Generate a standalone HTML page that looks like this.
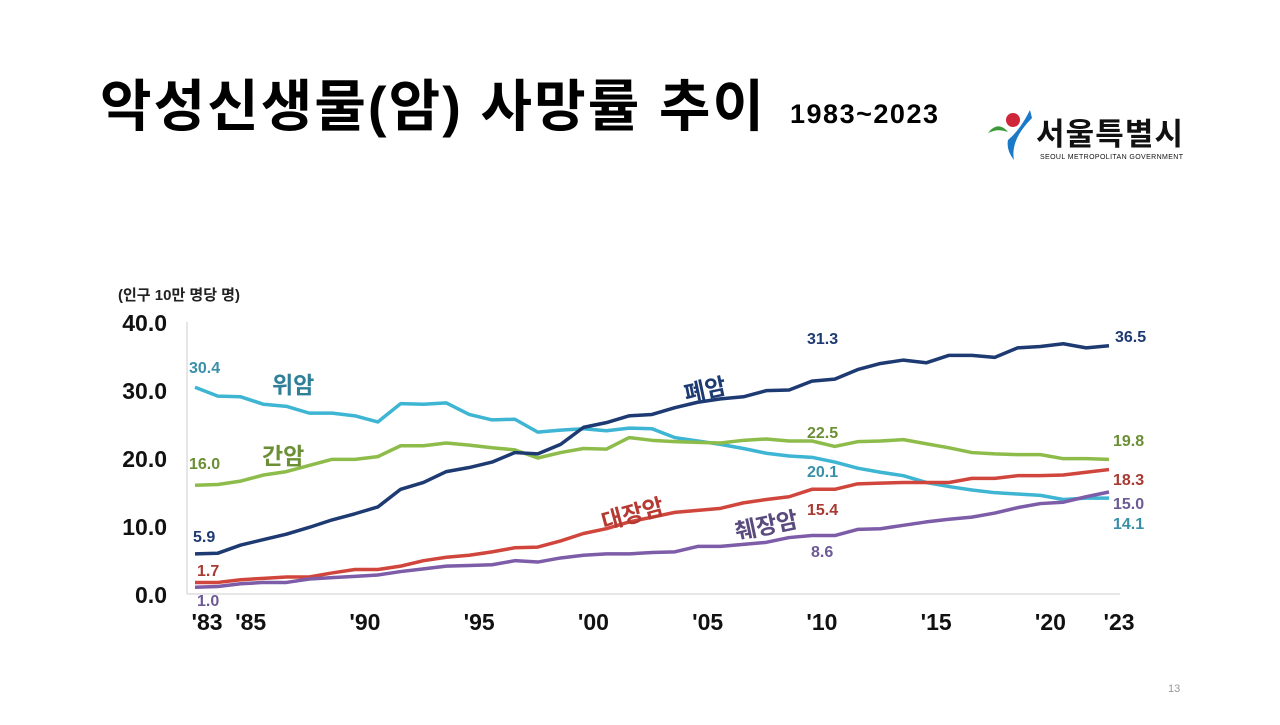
<!DOCTYPE html>
<html><head><meta charset="utf-8">
<style>
body{margin:0;width:1280px;height:720px;background:#fff;overflow:hidden;font-family:"Liberation Sans","Noto Sans CJK KR",sans-serif;}
svg text{font-family:"Liberation Sans","Noto Sans CJK KR",sans-serif;}
</style></head><body>
<svg width="1280" height="720">
<text x="100" y="126" font-size="56" font-weight="bold" fill="#000" textLength="664">악성신생물(암) 사망률 추이</text>
<text x="790" y="123" font-size="27" font-weight="bold" fill="#000" textLength="148">1983~2023</text>
<g>
<circle cx="1013" cy="120" r="7" fill="#d0263a"/>
<path d="M988 133 Q998 120 1008 132 Q998 128 988 133Z" fill="#3a9a3a"/>
<path d="M1030 110 Q1020 130 1008 140 Q1006 150 1014 160 Q1010 140 1032 118Z" fill="#1b7ac8"/>
<text x="1036" y="145" font-size="31" font-weight="bold" fill="#111" textLength="147">서울특별시</text>
<text x="1040" y="159" font-size="7" fill="#111" textLength="143">SEOUL METROPOLITAN GOVERNMENT</text>
</g>
<text x="1168" y="692" font-size="11" fill="#999">13</text>
<g id="chart"></g>
</svg>
<script>
const years=[];for(let y=1983;y<=2023;y++)years.push(y);
const lung=[5.9,6.0,7.2,8.0,8.8,9.8,10.9,11.8,12.8,15.4,16.4,18.0,18.6,19.4,20.8,20.6,22.0,24.5,25.2,26.2,26.4,27.4,28.2,28.7,29.0,29.9,30.0,31.3,31.6,33.0,33.9,34.4,34.0,35.1,35.1,34.8,36.2,36.4,36.8,36.2,36.5];
const stomach=[30.4,29.1,29.0,27.9,27.6,26.6,26.6,26.2,25.3,28.0,27.9,28.1,26.4,25.6,25.7,23.8,24.1,24.3,24.0,24.4,24.3,23.0,22.5,22.0,21.4,20.7,20.3,20.1,19.4,18.5,17.9,17.4,16.4,15.8,15.3,14.9,14.7,14.5,13.9,14.1,14.1];
const liver=[16.0,16.1,16.6,17.5,18.0,18.9,19.8,19.8,20.2,21.8,21.8,22.2,21.9,21.5,21.2,20.0,20.8,21.4,21.3,23.0,22.6,22.4,22.3,22.2,22.6,22.8,22.5,22.5,21.7,22.4,22.5,22.7,22.1,21.5,20.8,20.6,20.5,20.5,19.9,19.9,19.8];
const colon=[1.7,1.7,2.1,2.3,2.5,2.5,3.1,3.6,3.6,4.1,4.9,5.4,5.7,6.2,6.8,6.9,7.8,8.9,9.6,10.6,11.3,12.0,12.3,12.6,13.4,13.9,14.3,15.4,15.4,16.2,16.3,16.4,16.4,16.4,17.0,17.0,17.4,17.4,17.5,17.9,18.3];
const pancreas=[1.0,1.1,1.5,1.7,1.7,2.2,2.4,2.6,2.8,3.3,3.7,4.1,4.2,4.3,4.9,4.7,5.3,5.7,5.9,5.9,6.1,6.2,7.0,7.0,7.3,7.6,8.3,8.6,8.6,9.5,9.6,10.1,10.6,11.0,11.3,11.9,12.7,13.3,13.5,14.3,15.0];
const yTicks=[0,10,20,30,40];
const xTickYears=[1983,1985,1990,1995,2000,2005,2010,2015,2020,2023];
const xTickLabels=["'83","'85","'90","'95","'00","'05","'10","'15","'20","'23"];
const NS="http://www.w3.org/2000/svg";
const g=document.getElementById('chart');
const X=y=>195+(y-1983)*22.85;
const Y=v=>594-v*6.8;
function el(t,a,txt){const e=document.createElementNS(NS,t);for(const k in a)e.setAttribute(k,a[k]);if(txt!==undefined)e.textContent=txt;g.appendChild(e);return e;}
let e=el('line',{x1:187,y1:Y(40),x2:187,y2:Y(0),stroke:'#ddd','stroke-width':1.5});


e=el('line',{x1:187,y1:Y(0),x2:1120,y2:Y(0),stroke:'#ddd','stroke-width':1.5});


e=el('text',{x:118,y:300,'font-size':15,'font-weight':'bold',fill:'#222'},'(인구 10만 명당 명)');


yTicks.forEach(v=>{const t=el('text',{x:167,y:Y(v)+9,'font-size':23,'font-weight':'bold','text-anchor':'end',fill:'#111'},v.toFixed(1));

});
xTickYears.forEach((yr,i)=>{const t=el('text',{x:X(yr)+(i==0?12:10),y:630,'font-size':23,'font-weight':'bold','text-anchor':'middle',fill:'#111'},xTickLabels[i]);

});
const series=[[stomach,'#3db5d3','stomach-line'],[liver,'#8dbc4b','liver-line'],[colon,'#d0463c','colon-line'],[pancreas,'#7d5ca8','pancreas-line'],[lung,'#1e3a72','lung-line']];
series.forEach(([d,c,n])=>{const p=el('polyline',{points:d.map((v,i)=>X(years[i])+','+Y(v)).join(' '),fill:'none',stroke:c,'stroke-width':3.5,'stroke-linejoin':'round'});

});
function lab(x,y,t,c,sz,rot,name){const a={x:x,y:y,'font-size':sz,'font-weight':'bold',fill:c};if(rot)a.transform='rotate('+rot+' '+x+' '+y+')';const e=el('text',a,t);

}
lab(189,373,'30.4','#3a8fa8',16,0,'label-stomach-1983');
lab(272,393,'위암','#2f7f99',23,0,'name-stomach');
lab(189,469,'16.0','#6b8f35',16,0,'label-liver-1983');
lab(262,464,'간암','#6b8f35',23,0,'name-liver');
lab(193,542,'5.9','#1e3a72',16,0,'label-lung-1983');
lab(197,576,'1.7','#a83a33',16,0,'label-colon-1983');
lab(197,606,'1.0','#6d5a95',16,0,'label-pancreas-1983');
lab(604,530,'대장암','#b53a32',23,-15,'name-colon');
lab(686,402,'폐암','#1e3a72',23,-12,'name-lung');
lab(737,540,'췌장암','#5a4a7e',23,-12,'name-pancreas');
lab(807,344,'31.3','#1e3a72',16,0,'label-lung-2010');
lab(807,438,'22.5','#6b8f35',16,0,'label-liver-2010');
lab(807,477,'20.1','#3a8fa8',16,0,'label-stomach-2010');
lab(807,515,'15.4','#a83a33',16,0,'label-colon-2010');
lab(811,557,'8.6','#6d5a95',16,0,'label-pancreas-2010');
lab(1115,342,'36.5','#1e3a72',16,0,'label-lung-2023');
lab(1113,446,'19.8','#6b8f35',16,0,'label-liver-2023');
lab(1113,485,'18.3','#a83a33',16,0,'label-colon-2023');
lab(1113,509,'15.0','#6d5a95',16,0,'label-pancreas-2023');
lab(1113,529,'14.1','#3a8fa8',16,0,'label-stomach-2023');
</script>
</body></html>
